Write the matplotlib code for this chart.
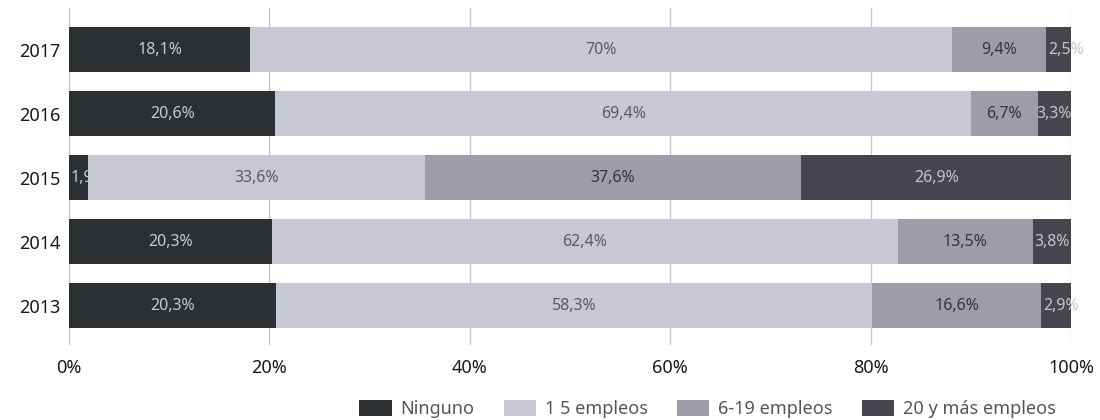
import numpy as np
import matplotlib
matplotlib.use('Agg', force=True)
import matplotlib.pyplot as plt

plt.rcParams['font.family'] = ['Noto Sans', 'DejaVu Sans']

years = ['2013', '2014', '2015', '2016', '2017']
series = ['Ninguno', '1 5 empleos', '6-19 empleos', '20 y más empleos']
ninguno = [20.3, 20.3, 1.9, 20.6, 18.1]
e1_5 = [58.3, 62.4, 33.6, 69.4, 70.0]
e6_19 = [16.6, 13.5, 37.6, 6.7, 9.4]
e20 = [2.9, 3.8, 26.9, 3.3, 2.5]
labels = [
    ['20,3%', '58,3%', '16,6%', '2,9%'],
    ['20,3%', '62,4%', '13,5%', '3,8%'],
    ['1,9%', '33,6%', '37,6%', '26,9%'],
    ['20,6%', '69,4%', '6,7%', '3,3%'],
    ['18,1%', '70%', '9,4%', '2,5%'],
]

colors = ['#2c3033', '#c8c8d2', '#9d9daa', '#46464f']
txt_colors = ['#c9c9d2', '#5a5a64', '#34343a', '#c4c4cc']

data = np.array([ninguno, e1_5, e6_19, e20]).T
# bars fill the full width, so scale each year to 100
data = data / data.sum(axis=1, keepdims=True) * 100

fig = plt.figure(figsize=(11, 4.2), dpi=100)
ax = fig.add_axes([0.0627, 0.179, 0.9109, 0.802])

y = np.arange(len(years))
left = np.zeros(len(years))
for j in range(4):
    ax.barh(y, data[:, j], left=left, height=0.7, color=colors[j],
            label=series[j], zorder=2)
    for i in range(len(years)):
        w = data[i, j]
        if w < 3:
            ax.text(left[i] + 0.2, y[i], labels[i][j], ha='left', va='center',
                    fontsize=11.5, color=txt_colors[j], zorder=3)
        else:
            ax.text(left[i] + w / 2, y[i], labels[i][j], ha='center', va='center',
                    fontsize=11.5, color=txt_colors[j], zorder=3, clip_on=True)
    left += data[:, j]

ax.set_xlim(0, 100)
ax.set_ylim(-0.61, 4.65)
ax.set_yticks(y)
ax.set_yticklabels(years, fontsize=13, color='#1a1a1a')
ax.set_xticks([0, 20, 40, 60, 80, 100])
ax.set_xticklabels(['0%', '20%', '40%', '60%', '80%', '100%'], fontsize=13, color='#1a1a1a')
ax.tick_params(length=0, pad=6)
ax.tick_params(axis='x', pad=10)
ax.xaxis.grid(True, color='#c8c8c8', linewidth=1, zorder=0)
for s in ax.spines.values():
    s.set_visible(False)

fig.legend(loc='lower right', bbox_to_anchor=(0.975, -0.035), ncol=4, frameon=False,
           fontsize=13, handlelength=1.8, handleheight=1.0, handletextpad=0.5,
           columnspacing=1.6, labelcolor='#555560')

fig.savefig('out.png', dpi=100)
